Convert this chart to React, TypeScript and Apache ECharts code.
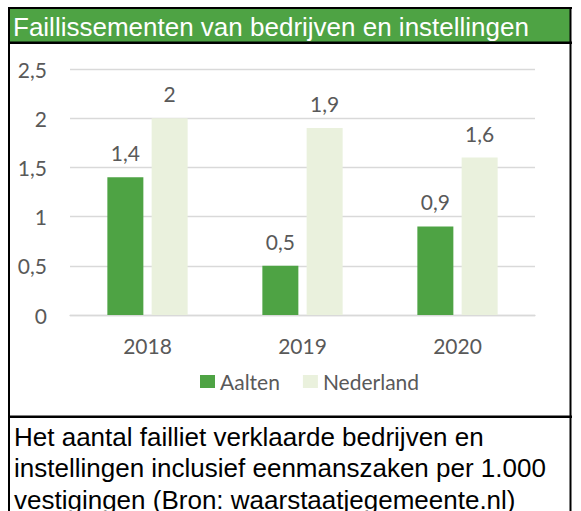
import { useEffect, useRef } from "react";
import * as echarts from "echarts";

const categories = ["2018", "2019", "2020"];
const aaltenValues = [1.4, 0.5, 0.9];
const nederlandValues = [2, 1.9, 1.6];
const seriesNames = ["Aalten", "Nederland"];
const yMin = 0;
const yMax = 2.5;
const yInterval = 0.5;
const titleText = "Faillissementen van bedrijven en instellingen";
const footerLines = [
  "Het aantal failliet verklaarde bedrijven en",
  "instellingen inclusief eenmanszaken per 1.000",
  "vestigingen (Bron: waarstaatjegemeente.nl)",
];

const GREEN = "#4EA344";
const LIGHT = "#EAF1DD";
const TEXT = "#595959";
const CHART_FONT = "Lato, 'Noto Sans', sans-serif";
const BOX_FONT = "'Liberation Sans', Arial, sans-serif";

const fmt = (v: number) => String(v).replace(".", ",");

export default function App() {
  const ref = useRef<HTMLDivElement>(null);
  useEffect(() => {
    if (!ref.current) return;
    const chart = echarts.init(ref.current, undefined, { renderer: "svg" });
    const footerGraphics = footerLines.map((line, i) => ({
      type: "text",
      x: 14,
      y: 436.5 + i * 31.5,
      style: {
        text: line,
        font: `26px ${BOX_FONT}`,
        fill: "#000000",
        verticalAlign: "middle",
        align: "left",
      },
      z: 10,
    }));
    const labelCfg = {
      show: true,
      position: "top",
      distance: 14,
      color: TEXT,
      fontSize: 21,
      fontFamily: CHART_FONT,
      formatter: (p: any) => fmt(p.value),
    };
    chart.setOption({
      animation: false,
      backgroundColor: "#ffffff",
      textStyle: { fontFamily: CHART_FONT },
      grid: { left: 70, right: 46, top: 69, bottom: 196, containLabel: false },
      xAxis: {
        type: "category",
        data: categories,
        axisLine: { show: true, lineStyle: { color: "#D9D9D9", width: 1.3 } },
        axisTick: { show: false },
        axisLabel: { color: TEXT, fontSize: 21, fontFamily: CHART_FONT, margin: 20 },
      },
      yAxis: {
        type: "value",
        min: yMin,
        max: yMax,
        interval: yInterval,
        axisLine: { show: false },
        axisTick: { show: false },
        splitLine: { lineStyle: { color: "#D9D9D9", width: 1.3 } },
        axisLabel: {
          color: TEXT,
          fontSize: 21,
          fontFamily: CHART_FONT,
          margin: 23,
          formatter: (v: number) => fmt(v),
        },
      },
      legend: {
        left: 195,
        top: 366,
        itemWidth: 15,
        itemHeight: 13,
        itemGap: 23,
        icon: "rect",
        textStyle: { color: TEXT, fontSize: 21, fontFamily: CHART_FONT },
        data: seriesNames,
      },
      series: [
        {
          name: seriesNames[0],
          type: "bar",
          data: aaltenValues,
          barWidth: 36,
          barGap: "23%",
          itemStyle: { color: GREEN },
          label: labelCfg,
        },
        {
          name: seriesNames[1],
          type: "bar",
          data: nederlandValues,
          barWidth: 36,
          barGap: "23%",
          itemStyle: { color: LIGHT },
          label: labelCfg,
        },
      ],
      graphic: [
        { type: "rect", shape: { x: 9, y: 9, width: 561, height: 33 }, style: { fill: GREEN }, z: 5 },
        { type: "rect", shape: { x: 8, y: 7, width: 564, height: 2 }, style: { fill: "#000" }, z: 6 },
        { type: "rect", shape: { x: 8, y: 41.5, width: 564, height: 2.5 }, style: { fill: "#000" }, z: 6 },
        { type: "rect", shape: { x: 8, y: 415.5, width: 564, height: 2.5 }, style: { fill: "#000" }, z: 6 },
        { type: "rect", shape: { x: 8, y: 7, width: 2, height: 504 }, style: { fill: "#000" }, z: 6 },
        { type: "rect", shape: { x: 569.5, y: 7, width: 2, height: 504 }, style: { fill: "#000" }, z: 6 },
        {
          type: "text",
          x: 13,
          y: 26.5,
          style: {
            text: titleText,
            font: `26px ${BOX_FONT}`,
            fill: "#ffffff",
            verticalAlign: "middle",
            align: "left",
          },
          z: 10,
        },
        ...footerGraphics,
      ],
    });
    return () => chart.dispose();
  }, []);
  return (
    <div
      ref={ref}
      style={{ position: "fixed", left: 0, top: 0, width: 581, height: 511 }}
    />
  );
}
